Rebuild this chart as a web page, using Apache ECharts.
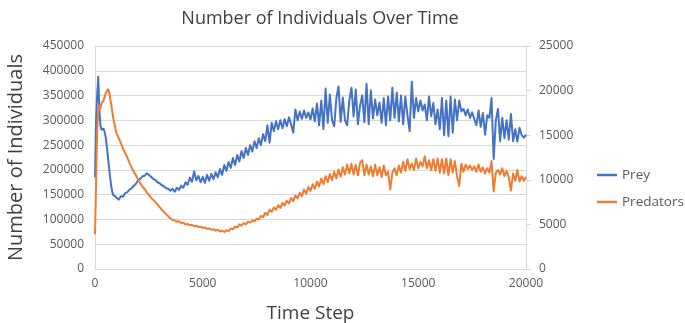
<!DOCTYPE html>
<html>
<head>
<meta charset="utf-8">
<script src="https://cdn.jsdelivr.net/npm/echarts@6/dist/echarts.min.js"></script>
<style>
  html, body { margin: 0; padding: 0; background: #ffffff; }
  #chart { width: 685px; height: 323px; }
</style>
</head>
<body>
<div id="chart"></div>
<script>
// Time steps: every 50 steps up to 1000, then every 100 steps
const timeSteps = [
  0, 50, 100, 150, 200, 250, 300, 350, 400, 450, 500, 550, 600, 650, 700, 750, 800, 850, 900, 950, 1000,
  1100, 1200, 1300, 1400, 1500, 1600, 1700, 1800, 1900, 2000,
  2100, 2200, 2300, 2400, 2500, 2600, 2700, 2800, 2900, 3000,
  3100, 3200, 3300, 3400, 3500, 3600, 3700, 3800, 3900, 4000,
  4100, 4200, 4300, 4400, 4500, 4600, 4700, 4800, 4900, 5000,
  5100, 5200, 5300, 5400, 5500, 5600, 5700, 5800, 5900, 6000,
  6100, 6200, 6300, 6400, 6500, 6600, 6700, 6800, 6900, 7000,
  7100, 7200, 7300, 7400, 7500, 7600, 7700, 7800, 7900, 8000,
  8100, 8200, 8300, 8400, 8500, 8600, 8700, 8800, 8900, 9000,
  9100, 9200, 9300, 9400, 9500, 9600, 9700, 9800, 9900, 10000,
  10100, 10200, 10300, 10400, 10500, 10600, 10700, 10800, 10900, 11000,
  11100, 11200, 11300, 11400, 11500, 11600, 11700, 11800, 11900, 12000,
  12100, 12200, 12300, 12400, 12500, 12600, 12700, 12800, 12900, 13000,
  13100, 13200, 13300, 13400, 13500, 13600, 13700, 13800, 13900, 14000,
  14100, 14200, 14300, 14400, 14500, 14600, 14700, 14800, 14900, 15000,
  15100, 15200, 15300, 15400, 15500, 15600, 15700, 15800, 15900, 16000,
  16100, 16200, 16300, 16400, 16500, 16600, 16700, 16800, 16900, 17000,
  17100, 17200, 17300, 17400, 17500, 17600, 17700, 17800, 17900, 18000,
  18100, 18200, 18300, 18400, 18500, 18600, 18700, 18800, 18900, 19000,
  19100, 19200, 19300, 19400, 19500, 19600, 19700, 19800, 19900, 20000
];

// Prey population (left axis)
const prey = [
  185000, 300000, 350000, 388000, 325000, 290000, 281000, 279000, 283000, 276000, 265000, 246000, 226000, 206000, 186000, 168000, 156000, 149000, 151000, 146000, 144000,
  140000, 147000, 146000, 153000, 155000, 160000, 163000, 168000, 172000, 179000,
  182000, 187000, 188000, 193000, 190000, 186000, 182000, 180000, 175000, 173000,
  169000, 167000, 163000, 162000, 158000, 162000, 156000, 164000, 160000, 168000,
  164000, 175000, 170000, 184000, 176000, 197000, 179000, 188000, 175000, 186000,
  174000, 190000, 178000, 192000, 181000, 195000, 185000, 202000, 190000, 210000,
  198000, 216000, 204000, 224000, 210000, 230000, 217000, 238000, 224000, 244000,
  230000, 250000, 237000, 258000, 244000, 264000, 250000, 272000, 258000, 290000,
  255000, 295000, 278000, 298000, 282000, 300000, 284000, 302000, 288000, 306000,
  292000, 275000, 322000, 300000, 318000, 303000, 320000, 305000, 316000, 302000,
  324000, 298000, 334000, 290000, 340000, 282000, 364000, 295000, 352000, 300000,
  288000, 345000, 368000, 297000, 346000, 300000, 290000, 340000, 366000, 308000,
  362000, 292000, 330000, 350000, 296000, 374000, 292000, 360000, 304000, 342000,
  310000, 336000, 295000, 345000, 290000, 348000, 300000, 366000, 305000, 356000,
  298000, 350000, 292000, 348000, 310000, 278000, 378000, 305000, 345000, 318000,
  340000, 320000, 332000, 300000, 348000, 308000, 335000, 292000, 322000, 282000,
  345000, 270000, 340000, 268000, 348000, 275000, 342000, 300000, 340000, 318000,
  323000, 310000, 322000, 305000, 316000, 303000, 290000, 320000, 287000, 315000,
  271000, 310000, 305000, 345000, 222000, 300000, 323000, 258000, 305000, 264000,
  300000, 261000, 313000, 258000, 282000, 257000, 285000, 270000, 265000, 271000
];

// Predator population (right axis)
const predators = [
  3900, 9500, 15500, 17800, 18300, 18000, 18600, 18400, 18900, 19300, 19700, 19900, 20150, 19900, 19200, 18500, 17700, 16900, 16300, 15700, 15200,
  14700, 14100, 13500, 13000, 12500, 11900, 11400, 10900, 10500, 10000,
  9600, 9250, 8950, 8600, 8300, 8000, 7750, 7500, 7250, 6950,
  6650, 6400, 6150, 5900, 5700, 5500, 5450, 5300, 5350, 5150,
  5200, 5000, 5050, 4900, 4950, 4800, 4850, 4700, 4750, 4600,
  4650, 4500, 4550, 4400, 4450, 4300, 4400, 4200, 4300, 4150,
  4350, 4250, 4550, 4450, 4750, 4650, 5000, 4850, 5150, 5000,
  5300, 5200, 5450, 5350, 5650, 5550, 5950, 5800, 6300, 6050,
  6650, 6400, 6900, 6650, 7150, 6850, 7400, 7100, 7650, 7350,
  7950, 7600, 8250, 7900, 8550, 8150, 8900, 8450, 9200, 8750,
  9500, 9000, 9800, 9250, 10150, 9500, 10400, 9750, 10650, 9950,
  10900, 10150, 11150, 10350, 11400, 10600, 11700, 10700, 11800, 10600,
  11700, 10500, 11900, 12200, 10500, 11700, 10600, 11500, 10400, 11700,
  10500, 11400, 10300, 11600, 10500, 10900, 8900, 10800, 11300, 10500,
  11600, 10800, 12000, 11000, 12300, 11200, 11800, 11100, 12400, 11300,
  12000, 11500, 12650, 11300, 12200, 11100, 12300, 11000, 12400, 10800,
  12300, 10700, 12400, 10500, 12300, 10800, 12100, 10400, 9300, 11800,
  10900, 11700, 11200, 11600, 11100, 11500, 10900, 11700, 10900, 11400,
  10700, 11300, 10800, 12100, 8700, 10800, 11100, 10600, 11300, 10400,
  11000, 10300, 8800, 10700, 9900, 11100, 9800, 10400, 9900, 10300
];

const xTicks = { min: 0, max: 20000, step: 5000 };
const preyTicks = { min: 0, max: 450000, step: 50000 };
const predatorTicks = { min: 0, max: 25000, step: 5000 };

const FONT = '"Open Sans", "Liberation Sans", sans-serif';
const GRID_GRAY = '#d9d9d9';
const TEXT_GRAY = '#595959';
const plain = v => String(v);

const chart = echarts.init(document.getElementById('chart'), null, { renderer: 'canvas' });

chart.setOption({
  animation: false,
  backgroundColor: '#ffffff',
  title: {
    text: 'Number of Individuals Over Time',
    left: 315,
    textAlign: 'center',
    top: 5,
    textStyle: { fontFamily: FONT, fontSize: 18, fontWeight: 'normal', color: '#404040' }
  },
  legend: {
    orient: 'vertical',
    left: 592,
    top: 163,
    icon: 'rect',
    itemWidth: 20,
    itemHeight: 2.5,
    itemGap: 13,
    textStyle: { fontFamily: FONT, fontSize: 13.5, color: TEXT_GRAY },
    data: ['Prey', 'Predators']
  },
  grid: {
    left: 95, right: 159, top: 46, bottom: 54,
    containLabel: false,
    outerBoundsMode: 'none'
  },
  xAxis: {
    type: 'value',
    min: xTicks.min, max: xTicks.max, interval: xTicks.step,
    name: 'Time Step',
    nameLocation: 'middle',
    nameGap: 35,
    nameTextStyle: { fontFamily: FONT, fontSize: 19, color: '#404040' },
    axisLine: { show: true, lineStyle: { color: GRID_GRAY, width: 1 } },
    axisTick: { show: false },
    splitLine: { show: false },
    axisLabel: { fontFamily: FONT, fontSize: 12, color: TEXT_GRAY, margin: 9, formatter: plain }
  },
  yAxis: [
    {
      type: 'value',
      position: 'left',
      min: preyTicks.min, max: preyTicks.max, interval: preyTicks.step,
      name: 'Number of Individuals',
      nameLocation: 'middle',
      nameRotate: 90,
      nameGap: 69,
      nameTextStyle: { fontFamily: FONT, fontSize: 20, color: '#404040' },
      axisLine: { show: true, lineStyle: { color: GRID_GRAY, width: 1 } },
      axisTick: { show: false },
      splitLine: { show: true, lineStyle: { color: GRID_GRAY, width: 1 } },
      axisLabel: { fontFamily: FONT, fontSize: 12, color: TEXT_GRAY, margin: 11, formatter: plain }
    },
    {
      type: 'value',
      position: 'right',
      min: predatorTicks.min, max: predatorTicks.max, interval: predatorTicks.step,
      axisLine: { show: true, lineStyle: { color: GRID_GRAY, width: 1 } },
      axisTick: { show: true, inside: false, length: 5, lineStyle: { color: GRID_GRAY } },
      splitLine: { show: false },
      axisLabel: { fontFamily: FONT, fontSize: 12, color: TEXT_GRAY, margin: 13, formatter: plain }
    }
  ],
  series: [
    {
      name: 'Prey',
      type: 'line',
      yAxisIndex: 0,
      symbol: 'none',
      color: '#4472c4',
      lineStyle: { width: 2, color: '#4472c4', join: 'round' },
      data: timeSteps.map((t, i) => [t, prey[i]])
    },
    {
      name: 'Predators',
      type: 'line',
      yAxisIndex: 1,
      symbol: 'none',
      color: '#ed7d31',
      lineStyle: { width: 2, color: '#ed7d31', join: 'round' },
      data: timeSteps.map((t, i) => [t, predators[i]])
    }
  ]
});
</script>
</body>
</html>
